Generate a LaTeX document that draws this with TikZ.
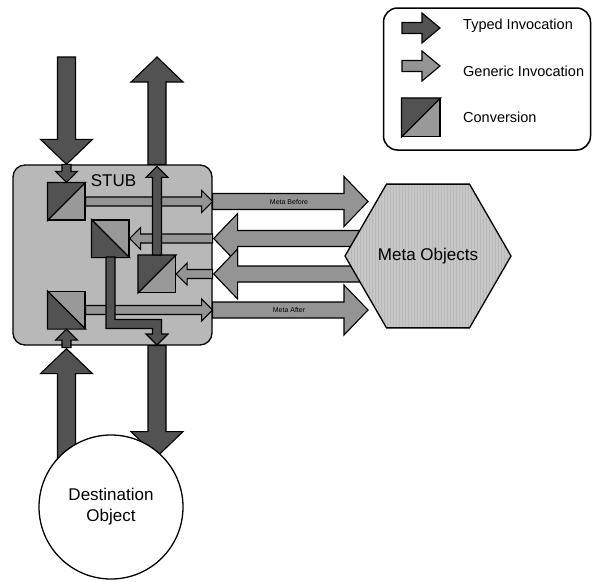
\documentclass[tikz,border=0pt]{standalone}
\usepackage{fontspec}
\setmainfont{Liberation Sans}
\usetikzlibrary{calc,shapes.geometric,patterns}

\definecolor{typed}{gray}{0.32}
\definecolor{generic}{gray}{0.58}
\definecolor{stubgray}{gray}{0.72}
\definecolor{convlight}{gray}{0.60}
\definecolor{hexgray}{gray}{0.78}

\tikzset{
	shaftw/.store in=\shaftw, headw/.store in=\headw, headl/.store in=\headl,
	bigarrow/.style={shaftw=9, headw=26, headl=25},
	midarrow/.style={shaftw=8, headw=25, headl=24},
	smallarrow/.style={shaftw=4.5, headw=11, headl=11},
	fat/.style={draw=black, line width=1.1pt, to path={let \p1=(\tikztostart), \p2=(\tikztotarget),
		\n1={veclen(\x2-\x1,\y2-\y1)}, \n2={atan2(\y2-\y1,\x2-\x1)} in
		[shift={(\p1)}, rotate=\n2]
		(0,\shaftw) -- ({\n1-\headl},\shaftw) -- ({\n1-\headl},\headw) -- (\n1,0)
		-- ({\n1-\headl},-\headw) -- ({\n1-\headl},-\shaftw) -- (0,-\shaftw) -- cycle}},
	conv/.style={draw=black, line width=1.1pt, fill=convlight, minimum size=37pt, inner sep=0pt},
	biglbl/.style={font=\fontsize{17}{21}\selectfont, inner sep=0pt},
	keylbl/.style={font=\fontsize{14.5}{17}\selectfont, anchor=west, inner sep=0pt},
	tinylbl/.style={font=\fontsize{7}{8}\selectfont, inner sep=0pt},
}

\begin{document}
\begin{tikzpicture}[x = 1pt, y = -1pt]
		\useasboundingbox (0, 0) rectangle (593, 581);
		\node[draw, line width=1.3pt, rounded corners=12pt, fill=stubgray, minimum width=199pt, minimum height=180pt] (stub) at (112.5, 255) {};
		\node[biglbl] (stubText) at (113.5, 181) {STUB};
		\node[conv] (cvA) at (66.5, 201.5) {};
		\node[conv] (cvB) at (110.5, 238.5) {};
		\node[conv] (cvC) at (157, 274) {};
		\node[conv] (cvD) at (66.5, 310) {};
		\foreach \c/\p/\q/\r in {cvA/north west/north east/south west, cvB/north west/south west/south east, cvC/north west/north east/south west, cvD/north west/south west/south east}
			\filldraw[fill=typed, line width=1.1pt] (\c.\p) -- (\c.\q) -- (\c.\r) -- cycle;
		\foreach \c in {cvA, cvD}
			\draw[fat, smallarrow, fill=generic] (\c.east) to (\c.east -| stub.east);
		\foreach \c in {cvB, cvC}
			\draw[fat, smallarrow, fill=generic] (\c.east -| stub.east) to (\c.east);
		\draw[fat, smallarrow, fill=typed] (cvA.north |- stub.north) to (cvA.north);
		\draw[fat, smallarrow, fill=typed] (cvC.north) to ($(cvC.north |- stub.north) + (0, 2)$);
		\draw[fat, smallarrow, fill=typed] ($(cvD.south |- stub.south) + (0, 2)$) to (cvD.south);
		\filldraw[fill=typed, line width=1.1pt] (106, 257) -- (106, 328.5) -- (152.5, 328.5) -- (152.5, 334) -- (146, 334) -- (157, 345)
			-- (168, 334) -- (161.5, 334) -- (161.5, 319.5) -- (115, 319.5) -- (115, 257) -- cycle;
		\coordinate (inTop) at (66.5, 57);
		\coordinate (outTop) at (157, 57);
		\coordinate (inBottom) at (66.5, 475);
		\draw[fat, bigarrow, fill=typed] (inTop) to (cvA.north |- stub.north);
		\draw[fat, bigarrow, fill=typed] (cvC.north |- stub.north) to (outTop);
		\draw[fat, bigarrow, fill=typed] (cvC.north |- stub.south) to ($(cvC.north |- stub.south) + (0, 111)$);
		\draw[fat, bigarrow, fill=typed] (inBottom) to ($(cvD.south |- stub.south) + (0, 3)$);
		\draw[fat, midarrow, fill=generic] (cvA.east -| stub.east) to (368, 201.5);
		\draw[fat, midarrow, fill=generic] (cvD.east -| stub.east) to (368, 310);
		\draw[fat, midarrow, fill=generic] (365, 238.5) to ($(cvB.east -| stub.east) + (1, 0)$);
		\draw[fat, midarrow, fill=generic] (365, 274) to ($(cvC.east -| stub.east) + (1, 0)$);
		\node[tinylbl] (beforeText) at (289, 201.5) {Meta Before};
		\node[tinylbl] (afterText) at (289, 310) {Meta After};
		\node[regular polygon, regular polygon sides=6, minimum size=166pt, inner sep=0pt, draw, line width=1.3pt,
			preaction={fill=hexgray}, pattern=vertical lines, pattern color=gray!55, biglbl] (meta) at (428, 256) {Meta Objects};
		\node[circle, draw, line width=1.3pt, fill=white, minimum size=144pt, align=center, biglbl] (dest) at (111, 507) {Destination\\Object};
		\node[draw, line width=1.5pt, rounded corners=14pt, minimum width=207pt, minimum height=142pt] (legend) at (487, 79) {};
		\draw[fat, shaftw=5.5, headw=15, headl=18, fill=typed] (402, 28) to (440, 28);
		\node[keylbl] (typedText) at (463, 26) {Typed Invocation};
		\draw[fat, shaftw=5.5, headw=15, headl=18, fill=generic] (402, 66) to (440, 66);
		\node[keylbl] (genericText) at (463, 71) {Generic Invocation};
		\node[conv, minimum size=38pt] (cvKey) at (421, 117.5) {};
		\filldraw[fill=typed, line width=1.1pt] (cvKey.north west) -- (cvKey.north east) -- (cvKey.south west) -- cycle;
		\node[keylbl] (convText) at (463, 117) {Conversion};
	\end{tikzpicture}
\end{document}
